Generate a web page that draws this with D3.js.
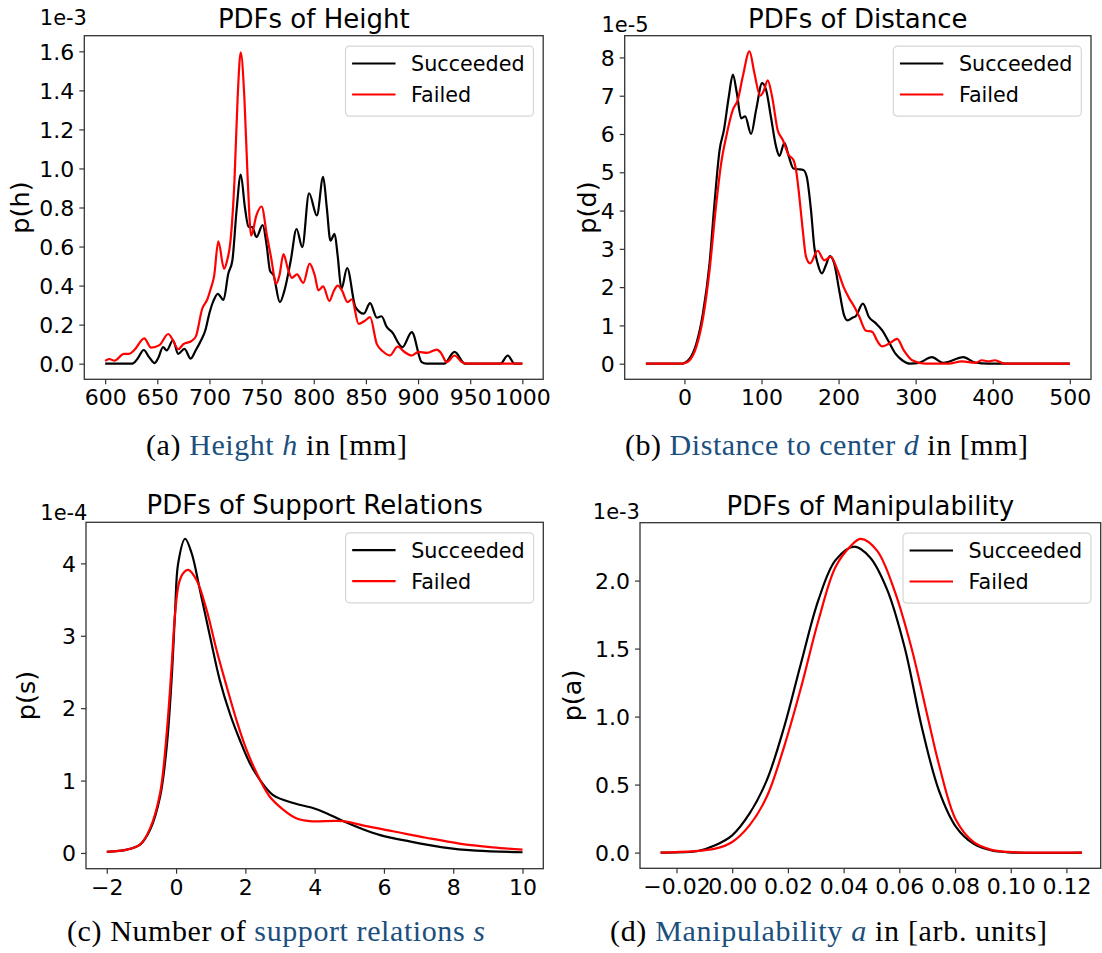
<!DOCTYPE html>
<html>
<head>
<meta charset="utf-8">
<script src="https://cdn.jsdelivr.net/npm/d3@7"></script>
<style>
  body { margin: 0; background: #fff; }
  svg text { font-family: "DejaVu Sans", sans-serif; fill: #000; }
</style>
</head>
<body>
<div id="chart"></div>
<script>
// ---- data: [x, density] pairs ----
const heightSucceeded = [[600,0],[626,0],[631,0.025],[637,0.07],[642,0.035],[647.5,0.003],[651,0.03],[655.5,0.085],[659,0.068],[665,0.12],[670,0.05],[676,0.076],[682,0.026],[687,0.07],[692,0.12],[696,0.17],[700,0.26],[704,0.324],[708,0.358],[713.5,0.327],[718,0.46],[722,0.53],[726,0.786],[730,0.969],[734,0.8],[737.5,0.70],[741,0.70],[745,0.648],[751,0.71],[755,0.6],[758,0.477],[761.5,0.452],[767.5,0.315],[772,0.377],[778,0.53],[783.5,0.69],[789,0.597],[795.5,0.873],[803,0.759],[809,0.957],[812.5,0.80],[816,0.63],[820,0.665],[823,0.55],[826.5,0.383],[832,0.49],[840,0.29],[848,0.256],[854,0.31],[860.5,0.236],[865,0.243],[870,0.188],[875,0.162],[885,0.085],[894,0.162],[903.5,0.008],[908,0],[925,0],[935,0.06],[945,0],[979,0],[986,0.042],[992.5,0],[1000,0]];
const heightFailed = [[600,0.014],[604,0.024],[609,0.015],[618,0.05],[623,0.05],[628,0.07],[637.5,0.13],[644,0.082],[652,0.095],[660.5,0.152],[665,0.12],[670,0.074],[675,0.1],[683,0.117],[687,0.14],[693,0.28],[698,0.33],[701,0.38],[704.5,0.45],[708.5,0.627],[714,0.486],[717,0.53],[720,0.62],[724,0.94],[727,1.36],[730,1.595],[733.5,1.36],[736.7,0.94],[740,0.656],[745,0.76],[750,0.805],[755,0.66],[759,0.547],[764,0.41],[767,0.45],[771,0.561],[775,0.49],[779,0.44],[784,0.457],[790,0.414],[796,0.513],[801,0.452],[804.5,0.375],[809,0.396],[815,0.321],[819,0.37],[823,0.40],[827,0.375],[832.5,0.315],[836.5,0.33],[843,0.204],[849,0.22],[854,0.238],[860.5,0.1],[867,0.06],[873,0.042],[880.5,0.088],[887,0.06],[894,0.042],[900.5,0.06],[908.5,0.055],[918,0.072],[922,0.055],[927.5,0.008],[935,0.042],[942,0.008],[948,0],[1000,0]];

const distanceSucceeded = [[-50,0],[-5,0],[0,0.02],[6.8,0.13],[15.4,0.52],[24,1.31],[32.6,2.62],[39,4.19],[45.6,5.58],[51.2,6.1],[57.6,6.98],[62.8,7.55],[68,7.07],[73.6,6.41],[78.8,6.46],[86.5,6.0],[93,6.63],[100.8,7.33],[106,7.15],[112.5,6.41],[118.9,5.67],[123.3,5.43],[129.7,5.77],[135.3,5.42],[141.4,5.1],[147,5.08],[154.3,5.06],[158.6,4.89],[164.2,4.01],[168.5,3.05],[172.8,2.62],[178.4,2.36],[183.5,2.57],[188.7,2.81],[194.3,2.62],[200.8,1.92],[207.2,1.26],[211.6,1.13],[218,1.2],[222.2,1.24],[231.6,1.57],[239.4,1.22],[248,1.06],[256.6,0.87],[265.2,0.57],[273.8,0.26],[282.5,0.09],[293,0],[304,0.02],[321,0.17],[336,0.02],[362,0.17],[377,0.03],[394,0],[500,0]];
const distanceFailed = [[-50,0],[-3,0],[0,0.01],[6.8,0.09],[15.4,0.44],[24,1.18],[32.6,2.44],[40.4,4.01],[47.7,5.24],[54.2,5.93],[62.8,6.63],[69.3,6.89],[75.7,7.5],[84.4,8.16],[90.8,7.59],[98.2,7.0],[102.5,7.11],[108.1,7.4],[113.7,6.98],[121,6.1],[127.5,5.85],[135.3,5.45],[141.4,5.32],[144.8,5.06],[149.1,4.36],[153.5,3.49],[157.8,2.79],[163,2.62],[172.8,2.95],[181.4,2.7],[190,2.79],[198.6,2.44],[207,1.98],[214,1.70],[220,1.5],[227,1.22],[235,0.87],[243.8,0.83],[250,0.6],[256.6,0.45],[265.2,0.52],[276,0.65],[284.6,0.35],[295.4,0.09],[312.6,0],[342.8,0],[360,0.06],[377.3,0.02],[386,0.09],[394.5,0.06],[403,0.09],[416,0],[500,0]];

const supportSucceeded = [[-2,0.014],[-1.42,0.046],[-1.04,0.115],[-0.75,0.32],[-0.46,0.78],[-0.27,1.47],[-0.13,2.39],[-0.03,3.31],[0.06,4.0],[0.26,4.34],[0.45,4.14],[0.69,3.63],[0.98,2.99],[1.26,2.39],[1.55,1.93],[1.84,1.56],[2.13,1.24],[2.42,1.01],[2.8,0.80],[3.38,0.69],[3.95,0.62],[4.34,0.55],[4.82,0.44],[5.3,0.345],[5.87,0.25],[6.74,0.16],[7.7,0.078],[8.66,0.032],[10,0.01]];
const supportFailed = [[-2,0.014],[-1.42,0.046],[-1.04,0.115],[-0.75,0.34],[-0.46,0.83],[-0.27,1.66],[-0.13,2.57],[-0.03,3.3],[0.08,3.72],[0.2,3.86],[0.35,3.91],[0.59,3.77],[0.88,3.36],[1.17,2.80],[1.46,2.30],[1.74,1.84],[2.03,1.43],[2.42,1.01],[2.7,0.78],[3.09,0.60],[3.47,0.48],[3.86,0.44],[4.82,0.44],[5.49,0.37],[6.26,0.30],[7.22,0.21],[8.18,0.13],[9.14,0.078],[10,0.046]];

const manipSucceeded = [[-0.0257,0],[-0.0123,0.012],[-0.0061,0.054],[0.0,0.127],[0.0062,0.286],[0.0124,0.531],[0.0186,0.92],[0.0248,1.40],[0.031,1.86],[0.0371,2.15],[0.0439,2.25],[0.0495,2.17],[0.0557,1.93],[0.0619,1.51],[0.0681,0.92],[0.0742,0.458],[0.0804,0.188],[0.0866,0.066],[0.0928,0.017],[0.099,0.002],[0.1256,0]];
const manipFailed = [[-0.0257,0],[-0.0061,0.029],[0.0,0.078],[0.0062,0.2],[0.0124,0.41],[0.0186,0.776],[0.0248,1.22],[0.031,1.71],[0.0371,2.10],[0.0427,2.257],[0.0462,2.306],[0.052,2.22],[0.0582,1.93],[0.0643,1.51],[0.0705,0.97],[0.0742,0.65],[0.0804,0.237],[0.0866,0.078],[0.0928,0.022],[0.099,0.005],[0.1256,0]];

// tick values
const heightXTicks = [600, 650, 700, 750, 800, 850, 900, 950, 1000];
const heightYTicks = [0, 0.2, 0.4, 0.6, 0.8, 1.0, 1.2, 1.4, 1.6];
const distanceXTicks = [0, 100, 200, 300, 400, 500];
const distanceYTicks = [0, 1, 2, 3, 4, 5, 6, 7, 8];
const supportXTicks = [-2, 0, 2, 4, 6, 8, 10];
const supportYTicks = [0, 1, 2, 3, 4];
const manipXTicks = [-0.02, 0, 0.02, 0.04, 0.06, 0.08, 0.10, 0.12];
const manipYTicks = [0, 0.5, 1.0, 1.5, 2.0];

const seriesNames = ["Succeeded", "Failed"];
const seriesColors = ["#000000", "#ff0000"];

const blue = "#1b4f7e";

const panels = [
    { title: "PDFs of Height", ylabel: "p(h)", offset: "1e-3",
      data: [heightSucceeded, heightFailed], curve: d3.curveMonotoneX,
      xDomain: [580, 1020], yDomain: [-0.08, 1.68],
      xTicks: heightXTicks, yTicks: heightYTicks,
      xFormat: d3.format("d"), yFormat: d3.format(".1f"),
      box: { left: 84.3, right: 543.2, top: 35.7, bottom: 379.3 },
      titleY: 27.6, ylabelX: 29, offsetX: 87, offsetY: 24.5, offsetAnchor: "end",
      caption: [["(a) ", "#000", "normal"], ["Height ", blue, "normal"], ["h", blue, "italic"], [" in [mm]", "#000", "normal"]],
      capX: 146, capW: 261, capY: 455 },
    { title: "PDFs of Distance", ylabel: "p(d)", offset: "1e-5",
      data: [distanceSucceeded, distanceFailed], curve: d3.curveMonotoneX,
      xDomain: [-77.5, 527.5], yDomain: [-0.408, 8.568],
      xTicks: distanceXTicks, yTicks: distanceYTicks,
      xFormat: d3.format("d"), yFormat: d3.format("d"),
      box: { left: 624.7, right: 1091, top: 35.7, bottom: 379.3 },
      titleY: 28.2, ylabelX: 596, offsetX: 625, offsetY: 32, offsetAnchor: "middle",
      caption: [["(b) ", "#000", "normal"], ["Distance to center ", blue, "normal"], ["d", blue, "italic"], [" in [mm]", "#000", "normal"]],
      capX: 625, capW: 403, capY: 455 },
    { title: "PDFs of Support Relations", ylabel: "p(s)", offset: "1e-4",
      data: [supportSucceeded, supportFailed], curve: d3.curveCatmullRom,
      xDomain: [-2.6, 10.6], yDomain: [-0.2175, 4.5675],
      xTicks: supportXTicks, yTicks: supportYTicks,
      xFormat: d3.format("d"), yFormat: d3.format("d"),
      box: { left: 86, right: 543.3, top: 522.3, bottom: 868.7 },
      titleY: 514.3, ylabelX: 35, offsetX: 87.5, offsetY: 520, offsetAnchor: "end",
      caption: [["(c) Number of ", "#000", "normal"], ["support relations ", blue, "normal"], ["s", blue, "italic"]],
      capX: 67, capW: 418, capY: 941 },
    { title: "PDFs of Manipulability", ylabel: "p(a)", offset: "1e-3",
      data: [manipSucceeded, manipFailed], curve: d3.curveCatmullRom,
      xDomain: [-0.0331, 0.1323], yDomain: [-0.1155, 2.4255],
      xTicks: manipXTicks, yTicks: manipYTicks,
      xFormat: d3.format(".2f"), yFormat: d3.format(".1f"),
      box: { left: 640, right: 1100.7, top: 522.7, bottom: 868.3 },
      titleY: 514.9, ylabelX: 581, offsetX: 640, offsetY: 518.5, offsetAnchor: "end",
      caption: [["(d) ", "#000", "normal"], ["Manipulability ", blue, "normal"], ["a", blue, "italic"], [" in [arb. units]", "#000", "normal"]],
      capX: 610, capW: 437, capY: 941 }
];

const svg = d3.select("#chart")
    .append("svg")
    .attr("width", 1102)
    .attr("height", 953);

svg.append("rect").attr("width", 1102).attr("height", 953).attr("fill", "#fff");

panels.forEach(p => {
    const b = p.box;
    const x = d3.scaleLinear().domain(p.xDomain).range([b.left, b.right]);
    const y = d3.scaleLinear().domain(p.yDomain).range([b.bottom, b.top]);
    const g = svg.append("g");

    // x axis
    const xa = g.append("g")
        .attr("transform", `translate(0,${b.bottom})`)
        .call(d3.axisBottom(x).tickValues(p.xTicks).tickFormat(p.xFormat)
            .tickSize(5).tickSizeOuter(0).tickPadding(5.5));
    // y axis
    const ya = g.append("g")
        .attr("transform", `translate(${b.left},0)`)
        .call(d3.axisLeft(y).tickValues(p.yTicks).tickFormat(p.yFormat)
            .tickSize(5).tickSizeOuter(0).tickPadding(5));
    [xa, ya].forEach(a => {
        a.select(".domain").remove();
        a.selectAll("line").attr("stroke", "#333").attr("stroke-width", 1.2);
        a.selectAll("text").attr("font-size", 22).attr("font-family", "DejaVu Sans").attr("fill", "#000");
    });
    ya.selectAll("text").attr("dy", "0.35em");

    // curves, Failed drawn last so it sits on top
    const line = d3.line()
        .x(d => x(d[0]))
        .y(d => y(d[1]))
        .curve(p.curve);
    p.data.forEach((s, i) => {
        g.append("path")
            .datum(s)
            .attr("d", line)
            .attr("fill", "none")
            .attr("stroke", seriesColors[i])
            .attr("stroke-width", 2.2)
            .attr("stroke-linejoin", "round");
    });

    // spines
    g.append("rect")
        .attr("x", b.left).attr("y", b.top)
        .attr("width", b.right - b.left).attr("height", b.bottom - b.top)
        .attr("fill", "none").attr("stroke", "#333").attr("stroke-width", 1.3);

    // title
    g.append("text")
        .attr("x", (b.left + b.right) / 2).attr("y", p.titleY)
        .attr("text-anchor", "middle").attr("font-size", 26)
        .text(p.title);

    // y label
    g.append("text")
        .attr("transform", `translate(${p.ylabelX},${(b.top + b.bottom) / 2}) rotate(-90)`)
        .attr("text-anchor", "middle").attr("font-size", 25.5)
        .text(p.ylabel);

    // offset text
    g.append("text")
        .attr("x", p.offsetX).attr("y", p.offsetY)
        .attr("text-anchor", p.offsetAnchor).attr("font-size", 21)
        .text(p.offset);

    // legend
    const lw = 188, lh = 70;
    const lx = b.right - 9.7 - lw, ly = b.top + 10.5;
    const lg = g.append("g").attr("transform", `translate(${lx},${ly})`);
    lg.append("rect")
        .attr("width", lw).attr("height", lh).attr("rx", 4)
        .attr("fill", "#fff").attr("fill-opacity", 0.8)
        .attr("stroke", "#d6d6d6").attr("stroke-width", 1.2);
    seriesNames.forEach((name, i) => {
        const cy = 17.3 + i * 31;
        lg.append("line")
            .attr("x1", 6.6).attr("x2", 50).attr("y1", cy).attr("y2", cy)
            .attr("stroke", seriesColors[i]).attr("stroke-width", 2.2);
        lg.append("text")
            .attr("x", 65.6).attr("y", cy + 7.6)
            .attr("font-size", 20.7)
            .text(name);
    });

    // caption under the panel
    const cap = svg.append("text")
        .attr("x", p.capX).attr("y", p.capY)
        .attr("font-size", 30)
        .attr("textLength", p.capW)
        .attr("lengthAdjust", "spacing")
        .style("font-family", "'Liberation Serif', serif");
    p.caption.forEach(part => {
        cap.append("tspan")
            .attr("fill", part[1])
            .attr("font-style", part[2])
            .text(part[0]);
    });
});
</script>
</body>
</html>
